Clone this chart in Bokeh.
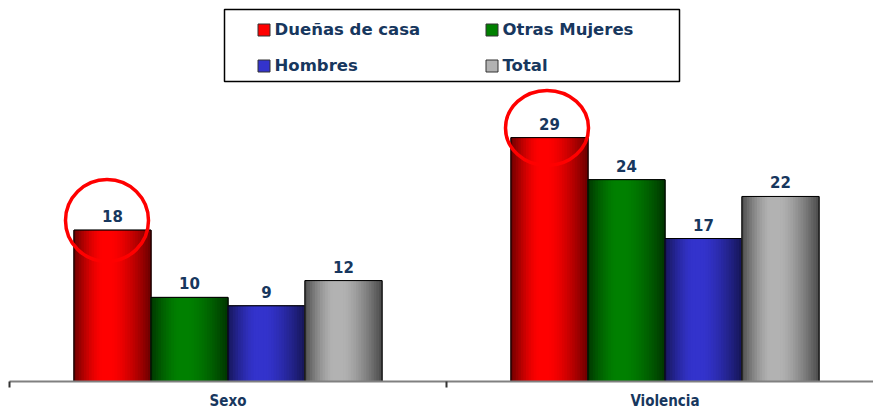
from bokeh.plotting import figure
from bokeh.models import (Range1d, FixedTicker, LinearAxis, Legend, LegendItem,
                          BoxAnnotation)
from bokeh.core.properties import value
from bokeh.embed import file_html
from bokeh.resources import INLINE

# ---------------- data ----------------
categories = ["Sexo", "Violencia"]
series_names = ["Dueñas de casa", "Otras Mujeres", "Hombres", "Total"]
duenas = [18, 29]
otras = [10, 24]
hombres = [9, 17]
total = [12, 22]
series_values = [duenas, otras, hombres, total]
highlight_series = 0  # circled bars: "Dueñas de casa"

# ---------------- styles ----------------
center_colors = [(255, 0, 0), (0, 128, 0), (51, 51, 204), (178, 178, 178)]
NAVY = "#17375E"
CAT_PX = 437          # pixels per category
BAR_W = 77 / CAT_PX   # bar width in category units
N_STRIPS = 30
FRAME_LEFT = 9
FRAME_BOTTOM_PAD = 31
PX_PER_UNIT = 8.41
W, H = 873, 412


def shade(t):
    c = 0.42
    d = abs(t - c) / (c if t < c else 1 - c)
    d = max(0.0, (d - 0.12) / 0.88)
    return 1 - 0.58 * d ** 1.5


def to_hex(rgb, f=1.0):
    return "#%02x%02x%02x" % tuple(int(round(min(255, c * f))) for c in rgb)


frame_h = H - FRAME_BOTTOM_PAD
p = figure(width=W, height=H, output_backend="svg", toolbar_location=None,
           x_range=Range1d(0, (W - FRAME_LEFT) / CAT_PX),
           y_range=Range1d(0, frame_h / PX_PER_UNIT),
           x_axis_location=None, y_axis_location=None,
           min_border_left=FRAME_LEFT, min_border_right=0, min_border_top=0,
           min_border_bottom=FRAME_BOTTOM_PAD)
p.outline_line_color = None
p.background_fill_color = "white"
p.border_fill_color = "white"
p.xgrid.visible = False
p.ygrid.visible = False

legend_items = []
for j, (name, vals, col) in enumerate(zip(series_names, series_values, center_colors)):
    centers = [i + 0.5 + (j - 1.5) * BAR_W for i in range(len(categories))]
    # solid base bar (also used as legend swatch)
    r_solid = p.vbar(x=centers, top=vals, bottom=0, width=BAR_W,
                     fill_color=to_hex(col), line_color="#333333", line_width=1)
    # horizontal gradient made of thin strips
    xs, tops, colors = [], [], []
    for cx, v in zip(centers, vals):
        for k in range(N_STRIPS):
            t = (k + 0.5) / N_STRIPS
            xs.append(cx - BAR_W / 2 + t * BAR_W)
            tops.append(v)
            colors.append(to_hex(col, shade(t)))
    p.vbar(x=xs, top=tops, bottom=0, width=BAR_W / N_STRIPS * 1.3,
           fill_color=colors, line_color=None)
    p.vbar(x=centers, top=vals, bottom=0, width=BAR_W, fill_color=None,
           line_color="black", line_width=1)
    p.text(x=centers, y=vals, text=[str(v) for v in vals], text_align="center",
           text_baseline="alphabetic", y_offset=-14,
           text_font=value("DejaVu Sans"), text_font_style="bold",
           text_font_size="15px", text_color=NAVY)
    legend_items.append(LegendItem(label=name, renderers=[r_solid], index=0))

    if j == highlight_series:
        dx = [-0.0126, -0.0057]
        p.ellipse(x=[c + d for c, d in zip(centers, dx)],
                  y=[v + 1.15 for v in vals],
                  width=[83, 83], height=[82, 75],
                  width_units="screen", height_units="screen",
                  fill_color=None, line_color="#ff0000", line_width=3.5)

ticks = [i + 0.5 for i in range(len(categories))]
bounds = list(range(len(categories) + 1))
xaxis = LinearAxis(ticker=FixedTicker(ticks=ticks, minor_ticks=bounds),
                   major_label_overrides={t: c for t, c in zip(ticks, categories)},
                   axis_line_color="#808080", axis_line_width=2,
                   major_tick_line_color=None, major_tick_out=0, major_tick_in=0,
                   minor_tick_line_color="#333333", minor_tick_line_width=2,
                   minor_tick_out=6, minor_tick_in=0,
                   major_label_standoff=4,
                   major_label_text_font="DejaVu Sans Condensed",
                   major_label_text_font_style="bold",
                   major_label_text_font_size="15px",
                   major_label_text_color=NAVY)
p.add_layout(xaxis, "below")

box = BoxAnnotation(left=224, right=679, top=9, bottom=81,
                    left_units="canvas", right_units="canvas",
                    top_units="canvas", bottom_units="canvas",
                    fill_alpha=0, fill_color=None,
                    line_color="black", line_alpha=1, line_width=1.5)
p.add_layout(box)

legend_top = 22
legend_h = 18 + 17 + 18
legend = Legend(items=legend_items, orientation="horizontal", ncols=2,
                location=(255.5 - FRAME_LEFT, frame_h - legend_top - legend_h),
                glyph_width=15, glyph_height=15,
                label_standoff=4, label_width=192, spacing=17, padding=0,
                border_line_alpha=0, background_fill_alpha=0,
                label_text_font="DejaVu Sans", label_text_font_style="bold",
                label_text_font_size="16.5px", label_text_color=NAVY)
p.add_layout(legend, "center")

open("out.html", "w").write(file_html(p, INLINE))
